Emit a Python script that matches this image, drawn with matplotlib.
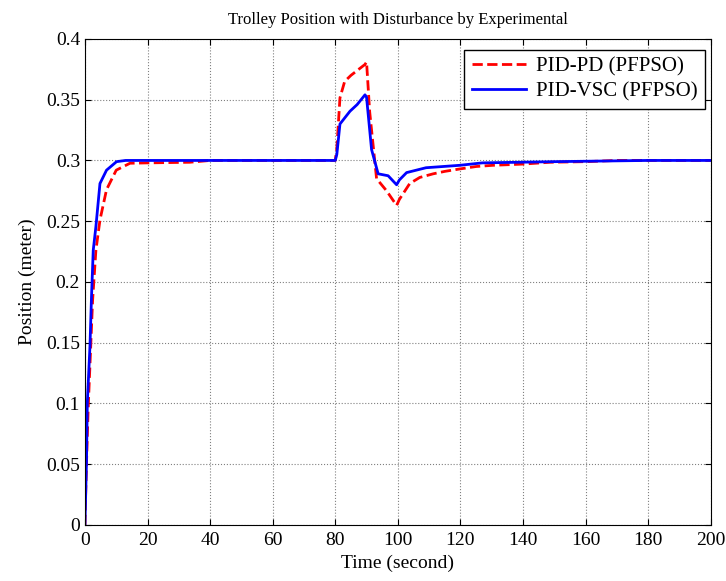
import numpy as np
import matplotlib.pyplot as plt

plt.rcParams['font.family'] = ['Liberation Serif', 'DejaVu Serif']

# PID-PD (PFPSO)
t_pd = [0, 0.2, 0.6, 1.05, 1.8, 2.45, 3.5, 4.8, 6.9, 10, 14.4, 20, 33.5, 40, 80,
        80.5, 81.5, 83, 85, 87.3, 89.5, 90, 91, 93.2, 96.4, 99.6, 100.5, 103.8,
        107, 111.3, 115, 119.8, 125, 130.4, 140, 148.6, 160, 170, 200]
y_pd = [0, 0.023, 0.06, 0.097, 0.144, 0.185, 0.226, 0.251, 0.276, 0.292, 0.2977, 0.298,
        0.2985, 0.3, 0.3,
        0.31, 0.3515, 0.365, 0.37, 0.3746, 0.379, 0.381, 0.34, 0.285, 0.275, 0.263, 0.268,
        0.281, 0.286, 0.289, 0.291, 0.293, 0.295, 0.296, 0.297, 0.2985, 0.299, 0.3, 0.3]

# PID-VSC (PFPSO)
t_vsc = [0, 0.5, 0.75, 1.6, 2.1, 2.65, 3.5, 4.8, 6.9, 10.1, 13, 40, 80,
         80.5, 81.5, 84.7, 87, 89.5, 90, 91.6, 93.7, 96.9, 99.6, 100.5, 102.8,
         109, 119.8, 127, 150, 180, 200]
y_vsc = [0, 0.053, 0.1, 0.147, 0.188, 0.226, 0.2455, 0.281, 0.292, 0.299, 0.3, 0.3, 0.3,
         0.305, 0.33, 0.3405, 0.346, 0.354, 0.352, 0.309, 0.289, 0.2874, 0.28, 0.284, 0.29,
         0.294, 0.296, 0.298, 0.299, 0.3, 0.3]

fig = plt.figure(figsize=(7.26, 5.81), dpi=100)
ax = fig.add_axes([0.117, 0.0964, 0.862, 0.8366])

ax.plot(t_pd, y_pd, 'r--', lw=2, label='PID-PD (PFPSO)')
ax.plot(t_vsc, y_vsc, 'b-', lw=2, label='PID-VSC (PFPSO)')

ax.set_xlim(0, 200)
ax.set_ylim(0, 0.4)
ax.set_xticks(np.arange(0, 201, 20))
ax.set_yticks(np.arange(0, 0.41, 0.05))
ax.set_yticklabels(['0', '0.05', '0.1', '0.15', '0.2', '0.25', '0.3', '0.35', '0.4'])
ax.tick_params(direction='in', top=True, right=True, labelsize=14, length=4)
ax.tick_params(axis='x', pad=5)
ax.grid(True, color='gray', linestyle=':', linewidth=0.8)

ax.set_title('Trolley Position with Disturbance by Experimental', fontsize=12, pad=11)
ax.set_xlabel('Time (second)', fontsize=14, labelpad=4)
ax.set_ylabel('Position (meter)', fontsize=14, labelpad=7)

leg = ax.legend(loc='upper right', bbox_to_anchor=(0.991, 0.978), fontsize=15,
                fancybox=False, framealpha=1, edgecolor='black', borderaxespad=0,
                handlelength=2.6, borderpad=0.35, labelspacing=0.25, handletextpad=0.5)
leg.get_frame().set_linewidth(1)

plt.savefig('out.png', dpi=100)
